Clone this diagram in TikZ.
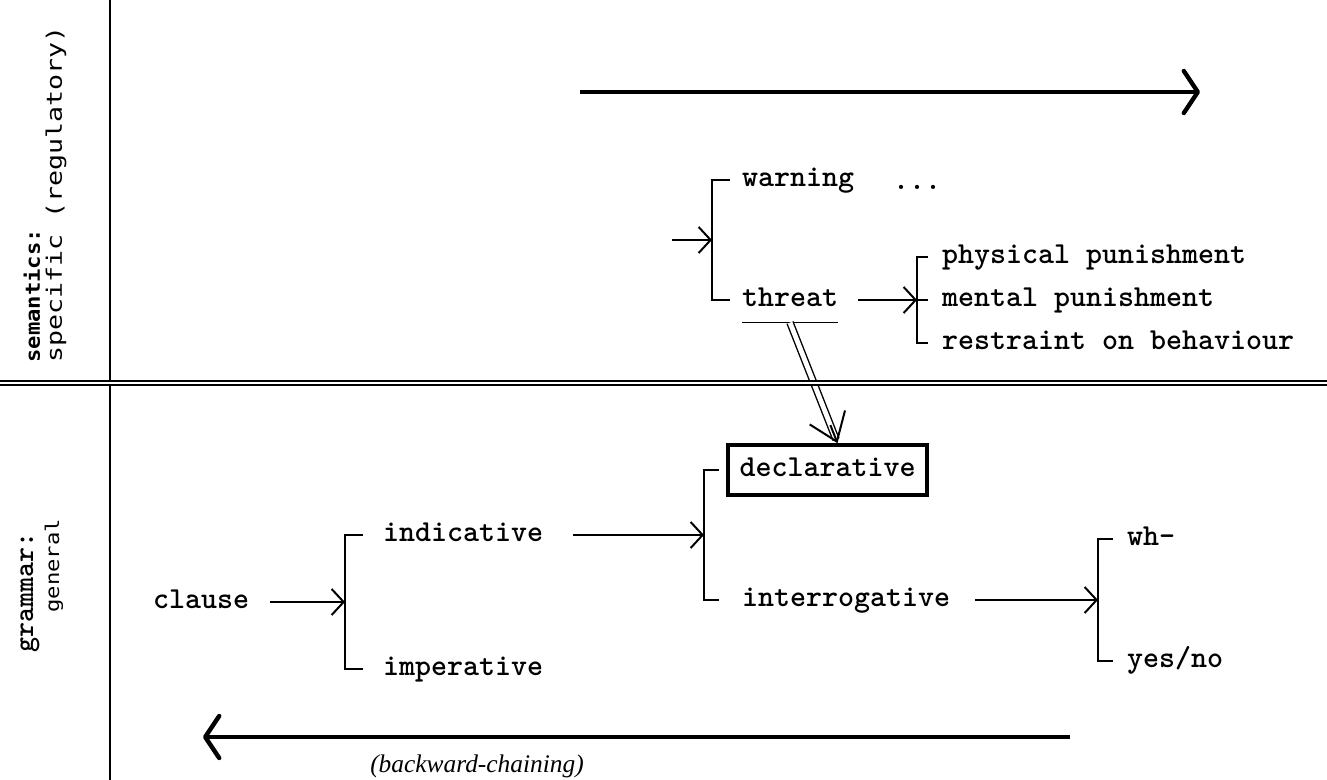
\documentclass[tikz,border=0pt]{standalone}
\usepackage{fontspec}
\usepackage{graphicx}
\newfontfamily\dvm{DejaVu Sans Mono}
\newfontfamily\lserif{Liberation Serif}
\usetikzlibrary{arrows.meta,calc}
\begin{document}
\begin{tikzpicture}[x=0.5pt,y=-0.5pt,
  mainfont/.style={font=\ttfamily\bfseries\fontsize{15.24}{18}\selectfont},
  txt/.style={mainfont, anchor=west, inner sep=0pt, outer sep=0pt, text height=6.6pt, text depth=0pt},
  conn/.style={line width=0.7pt, -{Straight Barb[length=6pt,width=13pt,line width=1pt]}},
  brk/.style={line width=1.1pt},
  bigarr/.style={line width=2.2pt, -{Straight Barb[length=7pt,width=21pt,line width=2.2pt,round]}},
  sidelbl/.style={rotate=90, anchor=west, inner sep=0pt},
]
\useasboundingbox (0,0) rectangle (1327,780);

% frame line
\draw[line width=1pt] (110,0) -- (110,780);

% top and bottom arrows
\coordinate (ta1) at (580,92);
\coordinate (ta2) at (1200,92);
\draw[bigarr] (ta1) -- (ta2);
\coordinate (ba1) at (1070,737);
\coordinate (ba2) at (203,737);
\draw[bigarr] (ba1) -- (ba2);
\node[inner sep=0pt, font=\lserif\itshape\fontsize{12.7}{14}\selectfont] (bc) at (477,766) {(backward-chaining)};

% side labels
\node[sidelbl, font=\dvm\bfseries\fontsize{11.1}{13}\selectfont] (sem) at (32,363) {\scalebox{1}[0.9]{semantics:}};
\node[sidelbl, font=\dvm\fontsize{13.3}{15}\selectfont] (spec) at (56,363) {\scalebox{1}[0.8]{specific (regulatory)}};
\node[sidelbl, font=\ttfamily\bfseries\fontsize{14.3}{16}\selectfont] (gram) at (30,653) {grammar:};
\node[sidelbl, font=\dvm\fontsize{11.1}{13}\selectfont] (gen) at (54,613) {\scalebox{1}[0.85]{general}};

% semantics network
\node[txt] (warning) at (742,180) {warning};
\node[txt] (threat) at (742,300) {threat};
\node[txt] (dots) at (893,183) {...};
\coordinate (b1) at (712,240);
\coordinate (in1) at (672,240);
\draw[brk] (730,180) -- (712,180) -- (712,300) -- (730,300);
\draw[conn] (in1) -- (b1);
\draw[line width=0.9pt] ([yshift=-8pt]threat.south west) -- ([yshift=-8pt]threat.south east);

\node[txt] (phys) at (942,257) {physical punishment};
\node[txt] (ment) at (942,300) {mental punishment};
\node[txt] (restr) at (942,343) {restraint on behaviour};
\coordinate (b2) at (917,300);
\draw[brk] (928,257) -- (917,257) -- (917,343) -- (928,343);
\draw[brk] (917,300) -- (928,300);
\draw[conn, shorten <=10pt] (threat.east) -- (b2);

% grammar network
\node[txt] (clause) at (153,602) {clause};
\node[txt] (indic) at (383,535) {indicative};
\node[txt] (imper) at (383,669) {imperative};
\coordinate (b3) at (345,602);
\draw[brk] (363,535) -- (345,535) -- (345,669) -- (363,669);
\draw[conn, shorten <=10.5pt] (clause.east) -- (b3);

\node[draw, line width=1.8pt, minimum width=99.5pt, minimum height=25pt, inner sep=0pt, text height=6.6pt, text depth=0pt, mainfont] (decl) at (827.5,470) {declarative};
\node[txt] (inter) at (742,600) {interrogative};
\coordinate (b4) at (704,535);
\draw[brk] (719,470) -- (704,470) -- (704,600) -- (719,600);
\draw[conn, shorten <=15pt] (indic.east) -- (b4);

\node[txt] (wh) at (1127,539) {wh-};
\node[txt] (yesno) at (1127,661) {yes/no};
\coordinate (b5) at (1098,600);
\draw[brk] (1113,539) -- (1098,539) -- (1098,661) -- (1113,661);
\draw[conn, shorten <=12.5pt] (inter.east) -- (b5);

% realization arrow threat -> declarative
\coordinate (ds) at ([yshift=-8pt]threat.south);
\coordinate (dt) at ([xshift=5pt]decl.north);
\draw[line width=0.7pt, double, double distance=2.4pt, shorten >=2pt] (ds) -- (dt);
\draw[line width=1pt, -{Straight Barb[length=13pt,width=19pt,line width=1pt]}] ($(ds)!0.85!(dt)$) -- (dt);

% separator
\draw[line width=0.7pt, double, double distance=1.2pt] (0,383) -- (1327,383);
\end{tikzpicture}
\end{document}
